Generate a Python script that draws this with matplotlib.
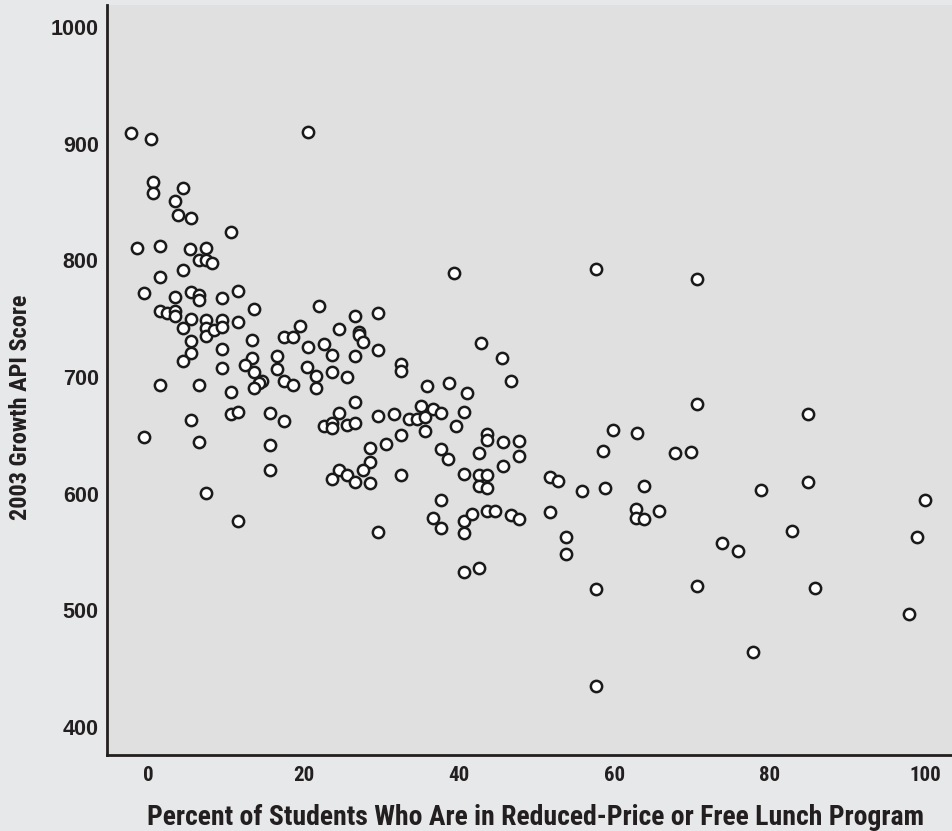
import matplotlib
matplotlib.use("Agg")
import matplotlib.pyplot as plt

# percent of students in reduced-price / free lunch program
lunch_pct = [
    -2.2, 0.4, 0.6, 0.6, 4.5, 3.5, 3.8, 5.5, 10.6, -1.4,
    1.5, 5.4, 7.5, 6.5, 7.5, 8.2, 1.5, 4.5, -0.6, 3.5,
    5.5, 6.5, 6.5, 9.5, 11.6, 13.6, 1.5, 2.4, 3.5, 3.5,
    5.5, 4.5, 7.5, 7.5, 7.5, 8.5, 9.5, 9.5, 11.5, 5.5,
    5.5, 4.5, 9.5, 13.4, 13.4, 12.5, 9.5, 13.6, 14.6, 14.3,
    17.5, 18.6, 20.4, 1.5, 6.5, 10.6, 13.6, 5.5, 10.6, 11.5,
    15.7, 17.5, -0.6, 6.5, 15.7, 15.7, 7.5, 11.5, 39.4, 22.0,
    26.6, 29.6, 19.5, 17.5, 18.6, 24.6, 27.2, 27.2, 27.6, 20.6,
    22.6, 23.6, 26.6, 29.6, 42.9, 16.6, 16.6, 21.6, 21.6, 23.6,
    25.6, 32.6, 32.6, 35.9, 38.7, 41.1, 26.6, 24.6, 22.6, 23.6,
    23.6, 25.6, 26.6, 29.6, 31.6, 33.6, 34.6, 35.1, 35.6, 36.6,
    37.7, 35.6, 40.7, 39.6, 43.6, 43.6, 42.6, 28.6, 28.6, 30.6,
    32.6, 37.7, 38.6, 24.6, 23.6, 25.6, 27.6, 32.6, 40.7, 42.6,
    43.6, 26.6, 28.6, 42.6, 43.6, 37.7, 43.6, 36.6, 37.7, 40.7,
    41.7, 40.7, 29.6, 40.7, 42.6, 57.7, 70.6, 45.5, 46.7, 45.7,
    47.7, 47.7, 45.7, 51.7, 52.8, 59.8, 62.9, 58.5, 67.8, 69.9,
    70.7, 55.8, 58.8, 63.8, 44.7, 46.7, 47.7, 51.7, 53.8, 53.8,
    62.8, 62.8, 63.8, 65.8, 57.7, 70.7, 57.7, 84.9, 84.9, 78.9,
    100.0, 82.9, 73.8, 75.9, 99.0, 85.9, 98.0, 77.9, 20.6,
]

# 2003 growth API score for each school
api_score = [
    909, 904, 867, 858, 862, 851, 839, 836, 824, 811,
    812, 810, 811, 800, 800, 798, 786, 792, 772, 769,
    773, 770, 766, 768, 774, 758, 757, 755, 757, 752,
    750, 742, 749, 742, 735, 740, 749, 743, 747, 731,
    721, 714, 724, 732, 716, 710, 708, 704, 697, 695,
    697, 693, 709, 693, 693, 687, 691, 663, 668, 670,
    669, 662, 649, 644, 642, 620, 601, 577, 789, 761,
    752, 755, 744, 734, 734, 741, 739, 736, 730, 726,
    728, 719, 718, 723, 729, 718, 707, 701, 691, 704,
    700, 711, 705, 692, 695, 686, 679, 669, 658, 661,
    656, 659, 661, 667, 668, 664, 664, 675, 666, 673,
    669, 654, 670, 658, 651, 646, 635, 639, 627, 643,
    650, 638, 630, 620, 613, 616, 620, 616, 617, 616,
    616, 610, 609, 607, 605, 595, 585, 579, 571, 577,
    583, 566, 567, 533, 536, 793, 784, 716, 697, 644,
    645, 632, 624, 614, 611, 655, 652, 637, 635, 636,
    677, 602, 605, 607, 585, 582, 578, 584, 563, 548,
    587, 579, 578, 585, 518, 521, 435, 668, 610, 603,
    595, 568, 558, 551, 563, 519, 497, 464, 910,
]

x_ticks = [0, 20, 40, 60, 80, 100]
y_ticks = [400, 500, 600, 700, 800, 900, 1000]

narrow = ["Liberation Sans Narrow", "Roboto Condensed", "Liberation Sans", "DejaVu Sans"]
wide = ["Liberation Sans", "DejaVu Sans"]

fig = plt.figure(figsize=(9.53, 8.31), dpi=100, facecolor="#e7e8e9")
ax = fig.add_axes([0.1123, 0.0915, 0.8877, 0.9025])
ax.set_facecolor("#e0e0e0")

ax.scatter(lunch_pct, api_score, s=66, facecolors="white",
           edgecolors="#1a1a1a", linewidths=1.8, zorder=3)

ax.set_xlim(-5.3, 103.6)
ax.set_ylim(376, 1019)

for side in ["top", "right"]:
    ax.spines[side].set_visible(False)
for side in ["left", "bottom"]:
    ax.spines[side].set_color("#231f20")
    ax.spines[side].set_linewidth(2)

ax.set_xticks(x_ticks)
ax.set_yticks(y_ticks)
ax.set_xticklabels([str(t) for t in x_ticks], family=narrow, fontweight="bold",
                   fontsize=15, color="#231f20")
ax.set_yticklabels([str(t) for t in y_ticks], family=wide, fontweight="bold",
                   fontsize=15.5, color="#231f20")
ax.tick_params(axis="both", length=0)
ax.tick_params(axis="x", pad=8)
ax.tick_params(axis="y", pad=6)

fig.text(0.5625, 0.016, "Percent of Students Who Are in Reduced-Price or Free Lunch Program",
         ha="center", va="center", family=narrow, fontweight="bold",
         fontsize=20, color="#231f20")
fig.text(0.021, 0.51, "2003 Growth API Score", rotation=90,
         ha="center", va="center", family=narrow, fontweight="bold",
         fontsize=17.5, color="#231f20")

fig.savefig("out.png", dpi=100, facecolor=fig.get_facecolor())
